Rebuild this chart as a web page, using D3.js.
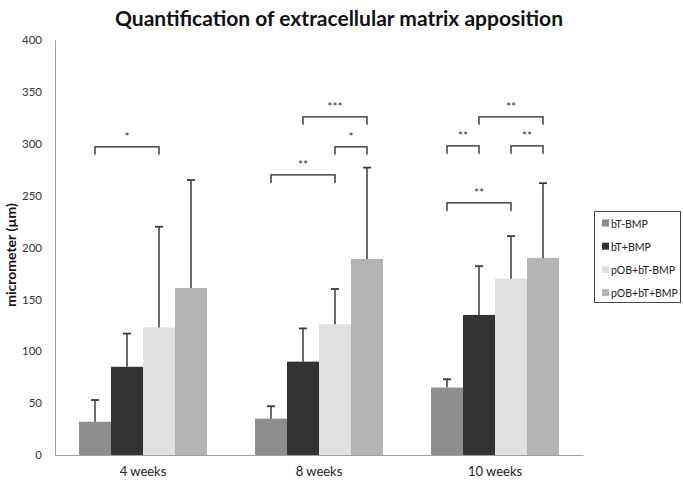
<!DOCTYPE html>
<html><head><meta charset="utf-8">
<script src="https://cdn.jsdelivr.net/npm/d3@7"></script>
<style>body{margin:0;background:#fff}svg{display:block}text{font-family:Lato,"Open Sans",sans-serif}</style>
</head><body><svg id="c" width="683" height="483"></svg>
<script>
const categories = ["4 weeks", "8 weeks", "10 weeks"];
const seriesNames = ["bT-BMP", "bT+BMP", "pOB+bT-BMP", "pOB+bT+BMP"];
const seriesColors = ["#8e8e8e", "#333333", "#e0e0e0", "#b4b4b4"];
const means = [
  [32, 85, 123, 161],
  [35, 90, 126, 189],
  [65, 135, 170, 190]
];
const errorTops = [
  [53, 117, 220, 265],
  [47, 122, 160, 277],
  [73, 182, 211, 262]
];
const yTicks = [0, 50, 100, 150, 200, 250, 300, 350, 400];
// brackets: [category index, from series, to series, level (µm), label]
const brackets = [
  [0, 0, 2, 297, "*"],
  [1, 1, 3, 326, "***"],
  [1, 2, 3, 297, "*"],
  [1, 0, 2, 270, "**"],
  [2, 1, 3, 326, "**"],
  [2, 0, 1, 298, "**"],
  [2, 2, 3, 298, "**"],
  [2, 0, 2, 243, "**"]
];

const svg = d3.select("#c");
const x0 = d3.scaleBand().domain(categories).range([55, 583]).padding(0);
const x1 = d3.scaleBand().domain(d3.range(seriesNames.length)).range([0, x0.bandwidth()]).paddingInner(0).paddingOuter(0.75);
const y = d3.scaleLinear().domain([0, 400]).range([455, 40]);

// title
svg.append("text").attr("x", 339).attr("y", 26).attr("text-anchor", "middle")
  .attr("font-size", 21).attr("font-weight", "bold").attr("fill", "#111")
  .text("Quantification  of extracellular matrix apposition");

// y axis
const yAxis = d3.axisLeft(y).tickValues(yTicks).tickSize(0).tickPadding(13);
const gy = svg.append("g").attr("transform", "translate(55,0)").call(yAxis);
gy.select(".domain").attr("stroke", "#a0a0a0");
gy.selectAll("text").attr("font-size", 11.5).attr("fill", "#333").attr("font-family", "Lato, sans-serif");

svg.append("text").attr("transform", "translate(16,255) rotate(-90)").attr("text-anchor", "middle")
  .attr("font-size", 14).attr("font-weight", "bold").attr("fill", "#111").text("micrometer (µm)");

// bars
const groups = svg.append("g").selectAll("g").data(categories).join("g")
  .attr("transform", d => `translate(${x0(d)},0)`);
groups.selectAll("rect").data((d, i) => means[i].map((v, j) => ({v, j}))).join("rect")
  .attr("x", d => x1(d.j)).attr("width", x1.bandwidth())
  .attr("y", d => y(d.v)).attr("height", d => y(0) - y(d.v))
  .attr("fill", d => seriesColors[d.j]);

// error bars
groups.each(function(c, i) {
  const g = d3.select(this);
  errorTops[i].forEach((e, j) => {
    const cx = x1(j) + x1.bandwidth() / 2;
    g.append("line").attr("x1", cx).attr("x2", cx).attr("y1", y(means[i][j])).attr("y2", y(e))
      .attr("stroke", "#3a3a3a").attr("stroke-width", 1.5);
    g.append("line").attr("x1", cx - 4).attr("x2", cx + 4).attr("y1", y(e)).attr("y2", y(e))
      .attr("stroke", "#3a3a3a").attr("stroke-width", 1.8);
  });
});

// x axis
const xAxis = d3.axisBottom(x0).tickSize(0).tickPadding(12);
const gx = svg.append("g").attr("transform", "translate(0,455)").call(xAxis);
gx.select(".domain").attr("stroke", "#a0a0a0");
gx.selectAll("text").attr("font-size", 13).attr("fill", "#222").attr("font-family", "Lato, sans-serif");

// significance brackets
brackets.forEach(([ci, a, b, lvl, lab]) => {
  const xa = x0(categories[ci]) + x1(a) + x1.bandwidth() / 2;
  const xb = x0(categories[ci]) + x1(b) + x1.bandwidth() / 2;
  const yy = y(lvl);
  svg.append("path").attr("d", `M${xa},${yy + 8}V${yy}H${xb}V${yy + 8}`)
    .attr("fill", "none").attr("stroke", "#222").attr("stroke-width", 1.3);
  svg.append("text").attr("x", (xa + xb) / 2).attr("y", yy - 6).attr("text-anchor", "middle")
    .attr("font-size", 12).attr("fill", "#333").text(lab);
});

// legend
const lg = svg.append("g");
lg.append("rect").attr("x", 594.5).attr("y", 211.5).attr("width", 86).attr("height", 91)
  .attr("fill", "#fff").attr("stroke", "#444").attr("stroke-width", 1);
seriesNames.forEach((s, j) => {
  const yy = 223.5 + j * 23.2;
  lg.append("rect").attr("x", 602).attr("y", yy - 4).attr("width", 7).attr("height", 7).attr("fill", seriesColors[j]);
  lg.append("text").attr("x", 611).attr("y", yy + 4).attr("font-size", 10.5).attr("fill", "#222").text(s);
});
</script></body></html>
